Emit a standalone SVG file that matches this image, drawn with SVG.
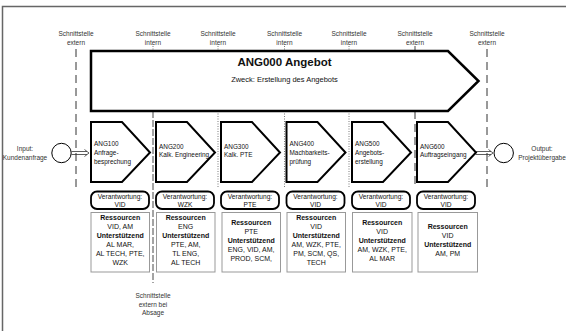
<svg xmlns="http://www.w3.org/2000/svg" width="566" height="331" viewBox="0 0 566 331">
<style>
text{font-family:"Liberation Sans",Arial,sans-serif;fill:#111}
.lbl{font-size:6.5px;text-anchor:middle;fill:#333}
.pt{font-size:6.4px}
.vt{font-size:6.6px;text-anchor:middle}
.rt{font-size:7px;text-anchor:middle}
.b{font-weight:bold}
.proc{fill:#fff;stroke:#000;stroke-width:2;stroke-linejoin:miter}
.ver{fill:#fff;stroke:#000;stroke-width:1.8}
.res{fill:#fff;stroke:#999;stroke-width:1}
.dot{stroke:#555;stroke-width:0.8;stroke-dasharray:1,1.5;fill:none}
.dash{stroke:#333;stroke-width:1;stroke-dasharray:8,5;fill:none}
.dash2{stroke:#333;stroke-width:0.9;stroke-dasharray:7,2;fill:none}
.arr{stroke:#333;stroke-width:0.8;fill:none}
</style>
<rect x="0" y="0" width="566" height="331" fill="#fff"/>
<path d="M2.5,331 V6.5 H566" fill="none" stroke="#666" stroke-width="1.5"/>

<g id="connectors">
  <line class="dash" x1="76" y1="49" x2="76" y2="188"/>
  <line class="dash" x1="487" y1="49" x2="487" y2="188"/>
  <line class="dot" x1="153" y1="46" x2="153" y2="51"/>
  <line class="dot" x1="218" y1="46" x2="218" y2="51"/>
  <line class="dot" x1="284.5" y1="46" x2="284.5" y2="51"/>
  <line class="dot" x1="349" y1="46" x2="349" y2="51"/>
  <line stroke="#333" stroke-width="0.9" x1="415" y1="46" x2="415" y2="51"/>
  <line class="dash2" x1="153" y1="111" x2="153" y2="283"/>
  <line class="dot" x1="218" y1="111" x2="218" y2="188"/>
  <line class="dot" x1="284.5" y1="111" x2="284.5" y2="188"/>
  <line class="dot" x1="349" y1="111" x2="349" y2="188"/>
  <line class="dash" x1="415" y1="111" x2="415" y2="188"/>
  <path class="arr" d="M71.5,151.5 H87 M71.5,154.5 H87 M84.5,149.5 L89,153 L84.5,156.5"/>
  <path class="arr" d="M475.5,151.5 H491 M475.5,154.5 H491 M488.5,149.5 L493,153 L488.5,156.5"/>
</g>

<g id="labels">
  <text class="lbl" x="76" y="36">Schnittstelle</text><text class="lbl" x="76" y="45">extern</text>
  <text class="lbl" x="153" y="36">Schnittstelle</text><text class="lbl" x="153" y="45">intern</text>
  <text class="lbl" x="218" y="36">Schnittstelle</text><text class="lbl" x="218" y="45">intern</text>
  <text class="lbl" x="284.5" y="36">Schnittstelle</text><text class="lbl" x="284.5" y="45">intern</text>
  <text class="lbl" x="349" y="36">Schnittstelle</text><text class="lbl" x="349" y="45">intern</text>
  <text class="lbl" x="415" y="36">Schnittstelle</text><text class="lbl" x="415" y="45">extern</text>
  <text class="lbl" x="487" y="36">Schnittstelle</text><text class="lbl" x="487" y="45">extern</text>
  <text class="lbl" x="153" y="298">Schnittstelle</text><text class="lbl" x="153" y="306.5">extern bei</text><text class="lbl" x="153" y="315">Absage</text>
</g>

<g id="ANG000">
  <polygon points="91,51 448,51 478.5,81 448,111 91,111" fill="#fff" stroke="#000" stroke-width="2.5"/>
  <text x="284.5" y="66" font-size="11.5" font-weight="bold" text-anchor="middle">ANG000 Angebot</text>
  <text x="284.5" y="81.5" font-size="7.5" text-anchor="middle">Zweck: Erstellung des Angebots</text>
</g>

<g id="input">
  <circle cx="61.5" cy="153" r="9.7" fill="#fff" stroke="#000" stroke-width="1"/>
  <text class="lbl" x="25" y="151" fill="#111">Input:</text>
  <text class="lbl" x="25" y="160" fill="#111">Kundenanfrage</text>
</g>
<g id="output">
  <circle cx="503.7" cy="153" r="9.7" fill="#fff" stroke="#000" stroke-width="1"/>
  <text class="lbl" x="542" y="150.5">Output:</text>
  <text class="lbl" x="542" y="159.5">Projektübergabe</text>
</g>

<g id="ANG100">
  <polygon class="proc" points="91,122 122,122 150,152.5 122,182 91,182"/>
  <text class="pt" x="94" y="145.5">ANG100</text><text class="pt" x="94" y="154.5">Anfrage-</text><text class="pt" x="94" y="163.5">besprechung</text>
  <rect class="ver" x="91" y="191.5" width="58" height="17.5" rx="6"/>
  <text class="vt" x="120" y="198.5">Verantwortung:</text><text class="vt" x="120" y="206.5">VID</text>
  <rect class="res" x="91" y="212.5" width="58.5" height="59.5"/>
  <text class="rt b" x="120.2" y="220">Ressourcen</text>
  <text class="rt" x="120.2" y="229">VID, AM</text>
  <text class="rt b" x="120.2" y="238">Unterstützend</text>
  <text class="rt" x="120.2" y="247">AL MAR,</text>
  <text class="rt" x="120.2" y="256">AL TECH, PTE,</text>
  <text class="rt" x="120.2" y="265">WZK</text>
</g>

<g id="ANG200">
  <polygon class="proc" points="156,122 187,122 215,152.5 187,182 156,182"/>
  <text class="pt" x="159" y="148.5">ANG200</text><text class="pt" x="159" y="156.5">Kalk. Engineering</text>
  <rect class="ver" x="156" y="191.5" width="58" height="17.5" rx="6"/>
  <text class="vt" x="185" y="198.5">Verantwortung:</text><text class="vt" x="185" y="206.5">WZK</text>
  <rect class="res" x="156.5" y="212.5" width="58.5" height="59.5"/>
  <text class="rt b" x="185.7" y="220">Ressourcen</text>
  <text class="rt" x="185.7" y="229">ENG</text>
  <text class="rt b" x="185.7" y="238">Unterstützend</text>
  <text class="rt" x="185.7" y="247">PTE, AM,</text>
  <text class="rt" x="185.7" y="256">TL ENG,</text>
  <text class="rt" x="185.7" y="265">AL TECH</text>
</g>

<g id="ANG300">
  <polygon class="proc" points="221,122 252,122 280,152.5 252,182 221,182"/>
  <text class="pt" x="224" y="148.5">ANG300</text><text class="pt" x="224" y="156.5">Kalk. PTE</text>
  <rect class="ver" x="221" y="191.5" width="58" height="17.5" rx="6"/>
  <text class="vt" x="250" y="198.5">Verantwortung:</text><text class="vt" x="250" y="206.5">PTE</text>
  <rect class="res" x="222" y="212.5" width="58.5" height="59.5"/>
  <text class="rt b" x="251.2" y="224.5">Ressourcen</text>
  <text class="rt" x="251.2" y="233.5">PTE</text>
  <text class="rt b" x="251.2" y="242.5">Unterstützend</text>
  <text class="rt" x="251.2" y="251.5">ENG, VID, AM,</text>
  <text class="rt" x="251.2" y="260.5">PROD, SCM,</text>
</g>

<g id="ANG400">
  <polygon class="proc" points="286.5,122 317.5,122 345.5,152.5 317.5,182 286.5,182"/>
  <text class="pt" x="289.5" y="145.5">ANG400</text><text class="pt" x="289.5" y="154.5">Machbarkeits-</text><text class="pt" x="289.5" y="163.5">prüfung</text>
  <rect class="ver" x="286.5" y="191.5" width="58" height="17.5" rx="6"/>
  <text class="vt" x="315.5" y="198.5">Verantwortung:</text><text class="vt" x="315.5" y="206.5">VID</text>
  <rect class="res" x="287" y="212.5" width="58.5" height="59.5"/>
  <text class="rt b" x="316.2" y="220">Ressourcen</text>
  <text class="rt" x="316.2" y="229">VID</text>
  <text class="rt b" x="316.2" y="238">Unterstützend</text>
  <text class="rt" x="316.2" y="247">AM, WZK, PTE,</text>
  <text class="rt" x="316.2" y="256">PM, SCM, QS,</text>
  <text class="rt" x="316.2" y="265">TECH</text>
</g>

<g id="ANG500">
  <polygon class="proc" points="352,122 383,122 411,152.5 383,182 352,182"/>
  <text class="pt" x="355" y="145.5">ANG500</text><text class="pt" x="355" y="154.5">Angebots-</text><text class="pt" x="355" y="163.5">erstellung</text>
  <rect class="ver" x="352" y="191.5" width="58" height="17.5" rx="6"/>
  <text class="vt" x="381" y="198.5">Verantwortung:</text><text class="vt" x="381" y="206.5">VID</text>
  <rect class="res" x="352.5" y="212.5" width="59.5" height="59.5"/>
  <text class="rt b" x="382.2" y="224.5">Ressourcen</text>
  <text class="rt" x="382.2" y="233.5">VID</text>
  <text class="rt b" x="382.2" y="242.5">Unterstützend</text>
  <text class="rt" x="382.2" y="251.5">AM, WZK, PTE,</text>
  <text class="rt" x="382.2" y="260.5">AL MAR</text>
</g>

<g id="ANG600">
  <polygon class="proc" points="417,122 448,122 476,152.5 448,182 417,182"/>
  <text class="pt" x="420" y="148.5">ANG600</text><text class="pt" x="420" y="156.5">Auftragseingang</text>
  <rect class="ver" x="417" y="191.5" width="58" height="17.5" rx="6"/>
  <text class="vt" x="446" y="198.5">Verantwortung:</text><text class="vt" x="446" y="206.5">VID</text>
  <rect class="res" x="418" y="212.5" width="59.5" height="59.5"/>
  <text class="rt b" x="447.7" y="229">Ressourcen</text>
  <text class="rt" x="447.7" y="238">VID</text>
  <text class="rt b" x="447.7" y="247">Unterstützend</text>
  <text class="rt" x="447.7" y="256">AM, PM</text>
</g>
</svg>
